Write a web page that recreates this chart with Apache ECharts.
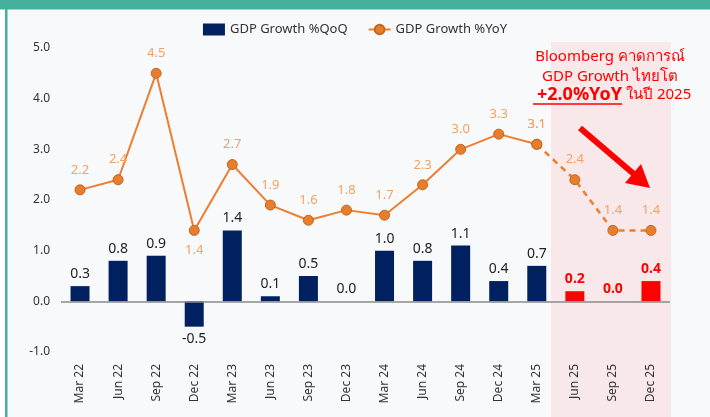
<!DOCTYPE html>
<html>
<head>
<meta charset="utf-8">
<script src="https://cdn.jsdelivr.net/npm/echarts@6/dist/echarts.min.js"></script>
<style>
html,body{margin:0;padding:0;background:#ffffff;}
#c{width:710px;height:417px;}
</style>
</head>
<body>
<div id="c"></div>
<script>
const categories = ['Mar 22','Jun 22','Sep 22','Dec 22','Mar 23','Jun 23','Sep 23','Dec 23','Mar 24','Jun 24','Sep 24','Dec 24','Mar 25','Jun 25','Sep 25','Dec 25'];
const qoq = [0.3, 0.8, 0.9, -0.5, 1.4, 0.1, 0.5, 0.0, 1.0, 0.8, 1.1, 0.4, 0.7, 0.2, 0.0, 0.4];
const yoy = [2.2, 2.4, 4.5, 1.4, 2.7, 1.9, 1.6, 1.8, 1.7, 2.3, 3.0, 3.3, 3.1, 2.4, 1.4, 1.4];
const forecastStart = 13; // Jun 25 onwards highlighted
const yTicks = [-1, 0, 1, 2, 3, 4, 5];

const FONT = '"Noto Sans", "DejaVu Sans", sans-serif';
const navy = '#012060';
const red = '#ff0000';
const orange = '#ee7d31';
const orangeLabel = '#f4a261';

const barData = qoq.map((v, i) => {
  const item = { value: v };
  const isF = i >= forecastStart;
  item.itemStyle = { color: isF ? red : navy };
  item.label = {
    position: v < 0 ? 'bottom' : 'top',
    color: isF ? red : '#222',
    fontWeight: isF ? 'bold' : 'normal'
  };
  return item;
});

const solidData = yoy.map((v, i) => (i <= forecastStart - 1 ? v : '-'));
const dashData = yoy.map((v, i) => (i >= forecastStart - 1 ? v : '-'));
const yoyLabelPos = yoy.map((v, i) => (i === 3 ? 'bottom' : 'top'));

function lineItems(arr) {
  return arr.map((v, i) => v === '-' ? '-' : { value: v, label: { position: yoyLabelPos[i] } });
}

const chart = echarts.init(document.getElementById('c'));
chart.setOption({
  backgroundColor: 'transparent',
  animation: false,
  textStyle: { fontFamily: FONT },
  graphic: [
    { type: 'rect', shape: { x: 0, y: 0, width: 710, height: 417 }, style: { fill: '#f8f9fb' }, z: -10 },
    { type: 'rect', shape: { x: 0, y: 0, width: 5, height: 417 }, style: { fill: '#ffffff' }, z: -9 },
    { type: 'rect', shape: { x: 5, y: 0, width: 2.5, height: 417 }, style: { fill: '#45b09e' }, z: -8 },
    { type: 'rect', shape: { x: 0, y: 0, width: 710, height: 9.5 }, style: { fill: '#45b09e' }, z: -8 },
    { type: 'rect', shape: { x: 551, y: 42, width: 120, height: 375 }, style: { fill: 'rgba(250,215,215,0.5)' }, z: -5 },
    { type: 'text', x: 610, y: 57, style: { text: 'Bloomberg คาดการณ์', fill: red, font: '15px ' + FONT, textAlign: 'center', textVerticalAlign: 'middle' }, z: 100 },
    { type: 'text', x: 610, y: 77, style: { text: 'GDP Growth ไทยโต', fill: red, font: '15px ' + FONT, textAlign: 'center', textVerticalAlign: 'middle' }, z: 100 },
    { type: 'text', x: 622, y: 95, style: { text: '+2.0%YoY', fill: red, font: 'bold 18px ' + FONT, textAlign: 'right', textVerticalAlign: 'middle' }, z: 100 },
    { type: 'text', x: 626, y: 95, style: { text: 'ในปี 2025', fill: red, font: '15px ' + FONT, textAlign: 'left', textVerticalAlign: 'middle' }, z: 100 },
    { type: 'line', shape: { x1: 533, y1: 104, x2: 622, y2: 104 }, style: { stroke: red, lineWidth: 1.5 }, z: 100 },
    { type: 'line', shape: { x1: 580, y1: 128, x2: 635, y2: 175 }, style: { stroke: red, lineWidth: 6 }, z: 100 },
    { type: 'polygon', shape: { points: [[650, 188], [625, 183], [641, 164]] }, style: { fill: red }, z: 100 }
  ],
  legend: {
    top: 18,
    left: 'center',
    itemGap: 20,
    itemWidth: 22,
    itemHeight: 12,
    textStyle: { fontSize: 13, color: '#333', fontFamily: FONT },
    data: [
      { name: 'GDP Growth %QoQ', icon: 'rect', itemStyle: { color: navy } },
      { name: 'GDP Growth %YoY' }
    ]
  },
  grid: { left: 61, right: 40, top: 48, bottom: 65, containLabel: false },
  xAxis: {
    type: 'category',
    data: categories,
    axisLine: { show: false, onZero: false },
    axisTick: { show: false },
    axisLabel: { rotate: 90, color: '#333', fontSize: 12, margin: 12, interval: 0, fontFamily: FONT }
  },
  yAxis: {
    type: 'value',
    min: -1, max: 5, interval: 1,
    splitLine: { show: false },
    axisLine: { show: false },
    axisTick: { show: false },
    axisLabel: { color: '#333', fontSize: 12, margin: 11, formatter: v => v.toFixed(1), fontFamily: FONT }
  },
  series: [
    {
      name: 'GDP Growth %QoQ',
      type: 'bar',
      barWidth: 19,
      data: barData,
      label: { show: true, fontSize: 14, distance: 5, formatter: p => Number(p.value).toFixed(1), fontFamily: FONT },
      markLine: {
        silent: true,
        symbol: ['none', 'none'],
        label: { show: false },
        lineStyle: { color: '#8a8a8a', width: 1.5, type: 'solid' },
        data: [{ yAxis: 0 }]
      },
      z: 2
    },
    {
      name: 'GDP Growth %YoY',
      type: 'line',
      data: lineItems(solidData),
      symbol: 'circle',
      symbolSize: 10,
      itemStyle: { color: '#e67e2e', borderColor: '#c4651f', borderWidth: 1 },
      lineStyle: { color: orange, width: 2 },
      label: { show: true, color: orangeLabel, fontSize: 13, distance: 8, formatter: p => Number(p.value).toFixed(1), fontFamily: FONT },
      z: 3
    },
    {
      name: 'GDP Growth %YoY',
      type: 'line',
      data: lineItems(dashData),
      symbol: 'circle',
      symbolSize: 10,
      itemStyle: { color: '#e67e2e', borderColor: '#c4651f', borderWidth: 1 },
      lineStyle: { color: orange, width: 2.5, type: [6, 5] },
      label: { show: true, color: orangeLabel, fontSize: 13, distance: 8, formatter: p => Number(p.value).toFixed(1), fontFamily: FONT },
      z: 3
    }
  ]
});
</script>
</body>
</html>
